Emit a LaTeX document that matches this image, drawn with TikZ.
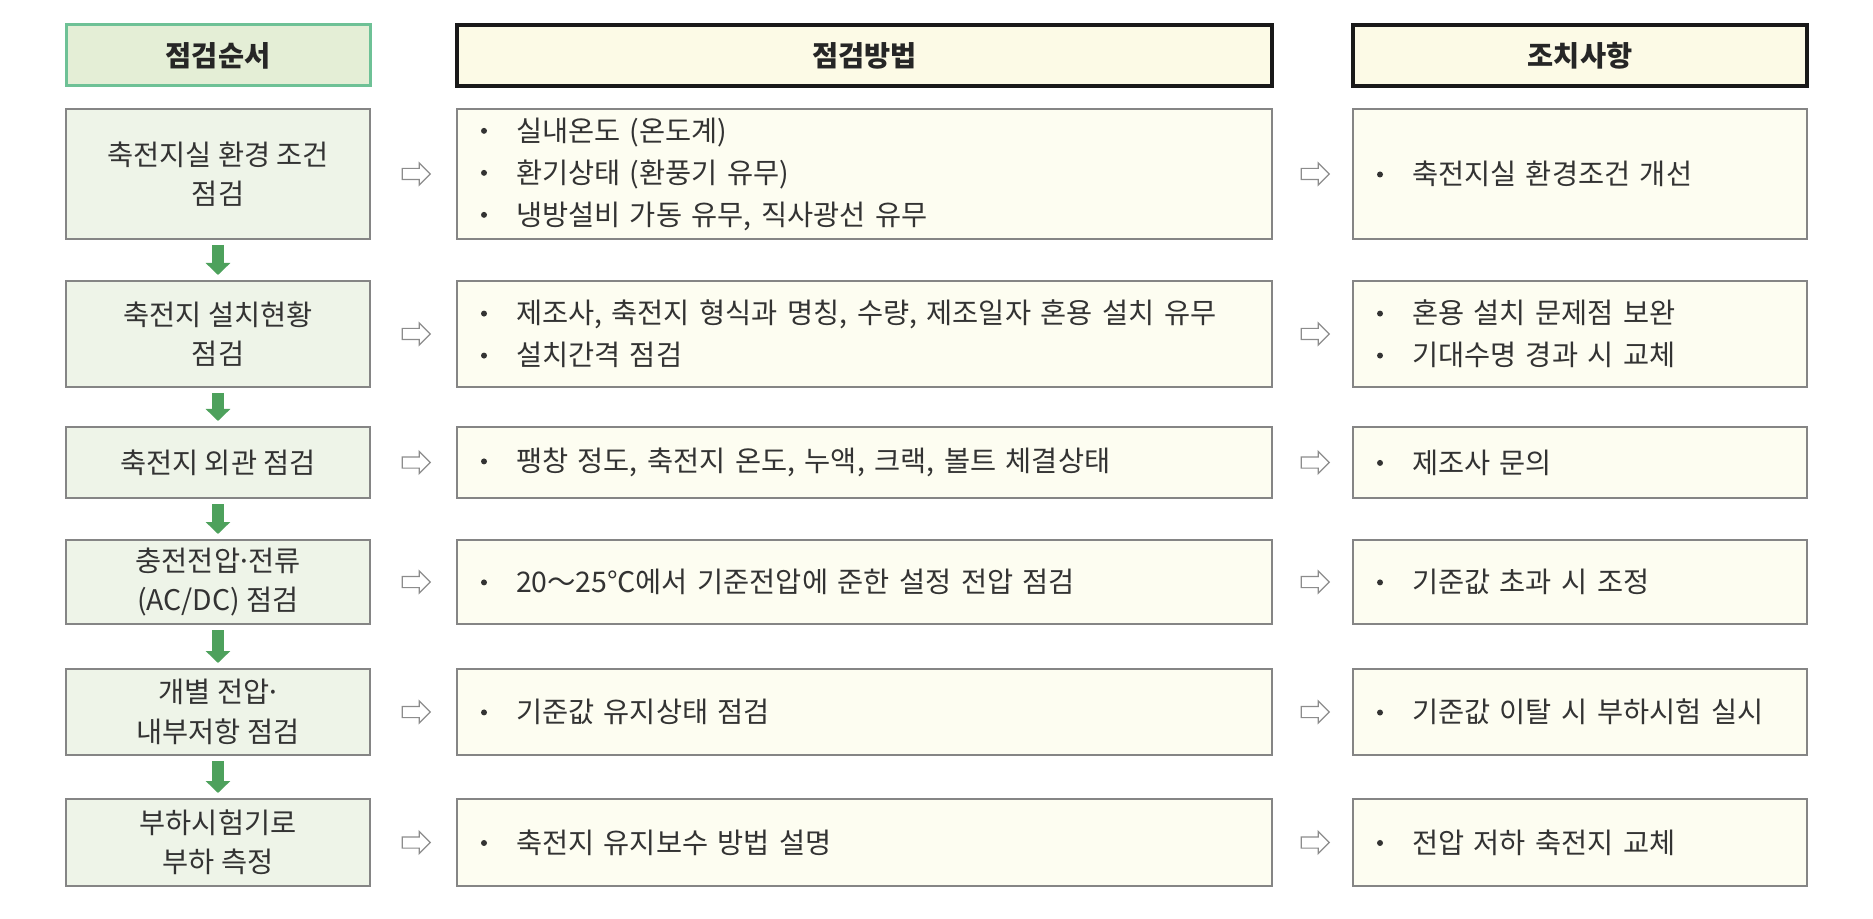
\documentclass[tikz,border=0pt]{standalone}
\usepackage{fontspec}
\setmainfont{Noto Sans CJK KR}
\usepackage{xcolor}
\usetikzlibrary{arrows.meta,calc}
\usetikzlibrary{positioning,shapes.arrows}

\definecolor{seqfill}{HTML}{EEF4E8}
\definecolor{seqtop}{HTML}{E4EED6}
\definecolor{seqrim}{HTML}{6EC196}
\definecolor{cream}{HTML}{FDFDF1}
\definecolor{creamtop}{HTML}{FCFAE6}
\definecolor{boxrim}{HTML}{858585}
\definecolor{flowgreen}{HTML}{4DA15C}
\definecolor{bodytext}{HTML}{333333}

\newcommand{\bul}{\hspace*{12pt}\makebox[17.5pt][l]{\raisebox{3.6pt}{\tikz\fill (0,0) circle (1.5pt);}}}
\newcommand{\mdot}{\makebox[4pt][c]{·}}

\tikzset{
  basebox/.style={draw=boxrim, line width=1pt, outer sep=0pt, inner sep=0pt, text=bodytext,
    font=\fontsize{14.2}{21}\selectfont},
  seqbox/.style={basebox, fill=seqfill, minimum width=152pt, align=center,
    font=\fontsize{14.2}{19.7}\selectfont},
  methbox/.style={basebox, fill=cream, text width=407.5pt, align=left},
  actbox/.style={basebox, fill=cream, text width=227pt, align=left},
  headbox/.style={draw=black!90, line width=2pt, fill=creamtop, outer sep=0pt, minimum height=30.5pt,
    text=black!85, font=\fontsize{14.2}{17}\selectfont\bfseries},
  flow/.style={-{Triangle[width=12pt,length=6pt]}, line width=6pt, flowgreen, shorten <=3pt, shorten >=3pt},
  hollow/.style={single arrow, draw=black!45, fill=white, line width=0.6pt, minimum height=14pt,
    minimum width=11pt, inner sep=2.5pt, single arrow head extend=2.75pt}
}

\begin{document}
\begin{tikzpicture}
                \useasboundingbox (0,0) rectangle (936.5pt,-459.5pt);

                % Headers
                \node[headbox, draw=seqrim, line width=1.5pt, fill=seqtop, minimum width=152pt] (seqhead) at (109pt,-27.75pt) {점검순서};
                \node[headbox, minimum width=407.5pt, right=43.5pt of seqhead] (methhead) {점검방법};
                \node[headbox, minimum width=227pt, right=40.5pt of methhead] (acthead) {조치사항};

                % Inspection order
                \node[seqbox, minimum height=65pt, below=11.5pt of seqhead] (seq1) {축전지실 환경 조건\\점검};
                \node[seqbox, minimum height=53pt, below=21pt of seq1] (seq2) {축전지 설치현황\\점검};
                \node[seqbox, minimum height=35.5pt, below=20pt of seq2] (seq3) {축전지 외관 점검};
                \node[seqbox, minimum height=42pt, below=21pt of seq3] (seq4) {충전전압\mdot 전류\\(AC/DC) 점검};
                \node[seqbox, minimum height=43pt, below=22.5pt of seq4] (seq5) {개별 전압\mdot\\내부저항 점검};
                \node[seqbox, minimum height=43.5pt, below=22pt of seq5] (seq6) {부하시험기로\\부하 측정};

                % Inspection method
                \node[methbox, minimum height=65pt, right=43.5pt of seq1] (meth1) {\bul 실내온도 (온도계)\\\bul 환기상태 (환풍기 유무)\\\bul 냉방설비 가동 유무, 직사광선 유무};
                \node[methbox, minimum height=53pt, right=43.5pt of seq2] (meth2) {\bul 제조사, 축전지 형식과 명칭, 수량, 제조일자 혼용 설치 유무\\\bul 설치간격 점검};
                \node[methbox, minimum height=35.5pt, right=43.5pt of seq3] (meth3) {\bul 팽창 정도, 축전지 온도, 누액, 크랙, 볼트 체결상태};
                \node[methbox, minimum height=42pt, right=43.5pt of seq4] (meth4) {\bul 20～25℃에서 기준전압에 준한 설정 전압 점검};
                \node[methbox, minimum height=43pt, right=43.5pt of seq5] (meth5) {\bul 기준값 유지상태 점검};
                \node[methbox, minimum height=43.5pt, right=43.5pt of seq6] (meth6) {\bul 축전지 유지보수 방법 설명};

                % Actions
                \node[actbox, minimum height=65pt, right=40.5pt of meth1] (act1) {\bul 축전지실 환경조건 개선};
                \node[actbox, minimum height=53pt, right=40.5pt of meth2] (act2) {\bul 혼용 설치 문제점 보완\\\bul 기대수명 경과 시 교체};
                \node[actbox, minimum height=35.5pt, right=40.5pt of meth3] (act3) {\bul 제조사 문의};
                \node[actbox, minimum height=42pt, right=40.5pt of meth4] (act4) {\bul 기준값 초과 시 조정};
                \node[actbox, minimum height=43pt, right=40.5pt of meth5] (act5) {\bul 기준값 이탈 시 부하시험 실시};
                \node[actbox, minimum height=43.5pt, right=40.5pt of meth6] (act6) {\bul 전압 저하 축전지 교체};

                % Arrows
                \draw[flow] (seq1) -- (seq2);
                \draw[flow] (seq2) -- (seq3);
                \draw[flow] (seq3) -- (seq4);
                \draw[flow] (seq4) -- (seq5);
                \draw[flow] (seq5) -- (seq6);

                \node[hollow] (go1) at ($(seq1.east)!0.5!(meth1.west)$) {};
                \node[hollow] (go2) at ($(seq2.east)!0.5!(meth2.west)$) {};
                \node[hollow] (go3) at ($(seq3.east)!0.5!(meth3.west)$) {};
                \node[hollow] (go4) at ($(seq4.east)!0.5!(meth4.west)$) {};
                \node[hollow] (go5) at ($(seq5.east)!0.5!(meth5.west)$) {};
                \node[hollow] (go6) at ($(seq6.east)!0.5!(meth6.west)$) {};
                \node[hollow] (fix1) at ($(meth1.east)!0.5!(act1.west)$) {};
                \node[hollow] (fix2) at ($(meth2.east)!0.5!(act2.west)$) {};
                \node[hollow] (fix3) at ($(meth3.east)!0.5!(act3.west)$) {};
                \node[hollow] (fix4) at ($(meth4.east)!0.5!(act4.west)$) {};
                \node[hollow] (fix5) at ($(meth5.east)!0.5!(act5.west)$) {};
                \node[hollow] (fix6) at ($(meth6.east)!0.5!(act6.west)$) {};
            \end{tikzpicture}
\end{document}
